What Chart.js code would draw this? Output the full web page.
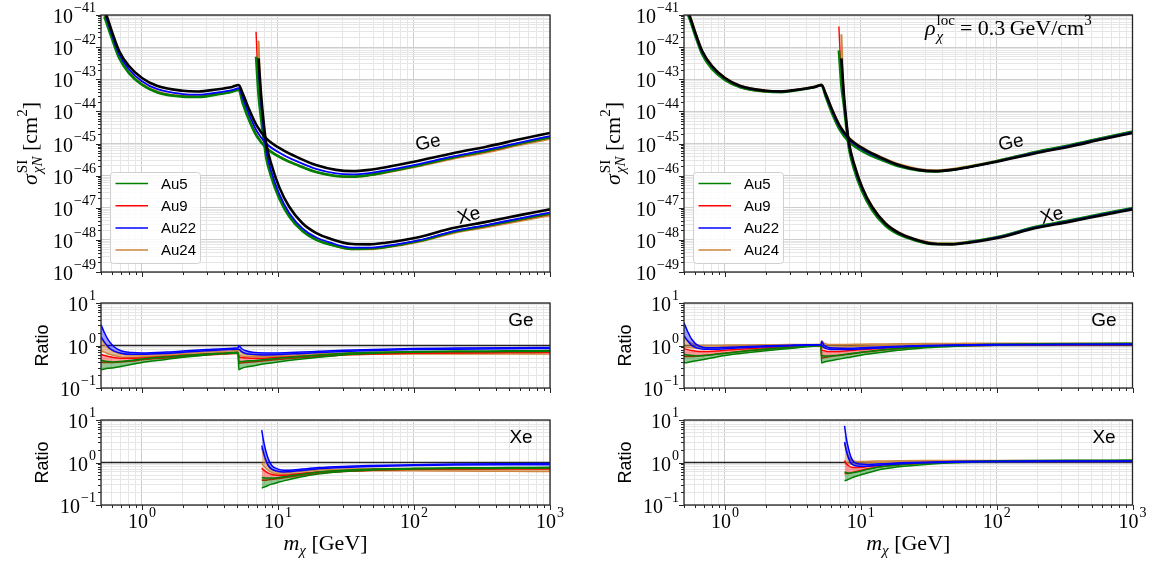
<!DOCTYPE html>
<html>
<head>
<meta charset="utf-8">
<script src="https://cdn.jsdelivr.net/npm/chart.js@4.4.1/dist/chart.umd.min.js"></script>
<style>
html, body { margin: 0; padding: 0; background: #fff; }
#wrap { position: relative; width: 1158px; height: 563px; overflow: hidden; }
canvas { position: absolute; }
</style>
</head>
<body>
<div id="wrap">
	<canvas id="lTop" width="580" height="290" style="left:0;top:0"></canvas>
	<canvas id="lGe" width="580" height="110" style="left:0;top:290px"></canvas>
	<canvas id="lXe" width="580" height="163" style="left:0;top:400px"></canvas>
	<canvas id="rTop" width="578" height="290" style="left:580px;top:0"></canvas>
	<canvas id="rGe" width="578" height="110" style="left:580px;top:290px"></canvas>
	<canvas id="rXe" width="578" height="163" style="left:580px;top:400px"></canvas>
</div>
<script>
// ---- data: masses in GeV, cross sections stored as log10(sigma / cm^2) ----
const mGe = [0.53, 0.55, 0.6, 0.68, 0.8, 1, 1.3, 2, 2.6, 3.5, 4.6, 5.15, 5.5, 6.2, 7, 8.2, 10.8, 14.4, 19, 26.7, 35, 47, 62, 100, 190, 340, 600, 1000];
const geRef = [-40.85, -41.02, -41.5, -42.12, -42.58, -42.96, -43.21, -43.36, -43.38, -43.32, -43.24, -43.18, -43.44, -43.98, -44.45, -44.84, -45.2, -45.46, -45.67, -45.82, -45.86, -45.82, -45.74, -45.57, -45.31, -45.1, -44.87, -44.67];
const geBlueL = [-40.92, -41.1, -41.6, -42.22, -42.68, -43.06, -43.31, -43.46, -43.48, -43.42, -43.34, -43.28, -43.57, -44.14, -44.62, -45.0, -45.34, -45.59, -45.79, -45.93, -45.96, -45.92, -45.84, -45.67, -45.41, -45.2, -44.97, -44.77];
const geOrangeL = [-41.0, -41.2, -41.68, -42.3, -42.76, -43.14, -43.38, -43.52, -43.53, -43.47, -43.38, -43.32, -43.7, -44.28, -44.74, -45.12, -45.45, -45.69, -45.88, -46.01, -46.04, -45.99, -45.91, -45.74, -45.48, -45.28, -45.05, -44.86];
const geGreenL = [-41.05, -41.25, -41.72, -42.34, -42.8, -43.17, -43.41, -43.54, -43.55, -43.48, -43.39, -43.33, -43.74, -44.32, -44.78, -45.14, -45.47, -45.7, -45.89, -46.01, -46.03, -45.98, -45.89, -45.71, -45.44, -45.23, -45.0, -44.8];
const geRedL = [-41.05, -41.25, -41.72, -42.34, -42.8, -43.17, -43.4, -43.53, -43.54, -43.48, -43.39, -43.33, -43.72, -44.3, -44.76, -45.13, -45.46, -45.7, -45.89, -46.01, -46.04, -45.99, -45.9, -45.72, -45.46, -45.25, -45.02, -44.82];
const geBlueR = [-40.88, -41.05, -41.53, -42.15, -42.6, -42.97, -43.22, -43.36, -43.38, -43.32, -43.24, -43.18, -43.47, -44.02, -44.49, -44.88, -45.23, -45.48, -45.68, -45.82, -45.86, -45.82, -45.74, -45.56, -45.29, -45.08, -44.85, -44.65];
const geOrangeR = [-40.82, -41.0, -41.48, -42.1, -42.57, -42.95, -43.2, -43.35, -43.37, -43.31, -43.22, -43.16, -43.42, -43.97, -44.44, -44.82, -45.18, -45.43, -45.64, -45.79, -45.83, -45.79, -45.71, -45.54, -45.27, -45.06, -44.83, -44.63];
const geGreenR = [-40.95, -41.12, -41.6, -42.22, -42.67, -43.02, -43.25, -43.38, -43.4, -43.33, -43.24, -43.18, -43.52, -44.1, -44.57, -44.95, -45.29, -45.52, -45.71, -45.84, -45.87, -45.82, -45.73, -45.55, -45.27, -45.06, -44.83, -44.63];
const geRedR = [-40.95, -41.12, -41.6, -42.22, -42.67, -43.03, -43.26, -43.39, -43.4, -43.33, -43.25, -43.19, -43.53, -44.1, -44.57, -44.95, -45.28, -45.51, -45.7, -45.83, -45.86, -45.82, -45.74, -45.56, -45.28, -45.07, -44.84, -44.64];

const mXe = [6.9, 7.2, 7.5, 7.9, 8.2, 8.9, 10.2, 12.1, 15.2, 19, 24, 35, 47, 62, 110, 190, 340, 600, 1000];
const xeRef = [null, -42.35, -43.44, -44.45, -45.0, -45.62, -46.35, -46.97, -47.49, -47.78, -47.96, -48.13, -48.14, -48.09, -47.91, -47.64, -47.44, -47.23, -47.05];
const xeBlueL = [null, -42.6, -43.7, -44.7, -45.22, -45.85, -46.56, -47.16, -47.65, -47.92, -48.08, -48.24, -48.24, -48.19, -48.01, -47.74, -47.54, -47.33, -47.15];
const xeOrangeL = [null, -41.8, -43.9, -44.85, -45.35, -45.95, -46.65, -47.24, -47.72, -47.98, -48.14, -48.29, -48.29, -48.24, -48.06, -47.8, -47.61, -47.41, -47.24];
const xeGreenL = [-42.3, -43.5, -44.2, -44.95, -45.45, -46.02, -46.7, -47.27, -47.73, -47.99, -48.14, -48.28, -48.27, -48.22, -48.03, -47.76, -47.56, -47.36, -47.18];
const xeRedL = [-41.52, -43.3, -44.1, -44.9, -45.4, -45.99, -46.68, -47.26, -47.73, -47.99, -48.14, -48.29, -48.28, -48.23, -48.04, -47.77, -47.58, -47.38, -47.2];
const xeBlueR = [null, -42.4, -43.5, -44.5, -45.04, -45.66, -46.38, -46.99, -47.5, -47.79, -47.96, -48.12, -48.13, -48.08, -47.89, -47.62, -47.42, -47.21, -47.03];
const xeOrangeR = [null, -41.6, -43.5, -44.45, -44.98, -45.6, -46.33, -46.95, -47.47, -47.76, -47.94, -48.1, -48.11, -48.06, -47.88, -47.61, -47.41, -47.2, -47.02];
const xeGreenR = [-42.1, -43.2, -43.8, -44.65, -45.17, -45.78, -46.48, -47.07, -47.56, -47.83, -47.99, -48.13, -48.13, -48.07, -47.88, -47.6, -47.4, -47.19, -47.01];
const xeRedR = [-41.36, -43.0, -43.75, -44.62, -45.14, -45.75, -46.46, -47.05, -47.55, -47.82, -47.98, -48.13, -48.13, -48.08, -47.89, -47.61, -47.41, -47.2, -47.02];

// ---- ratio panels: upper / lower edge of each model's band ----
const mGeR = [0.5, 0.53, 0.57, 0.62, 0.7, 0.85, 1, 1.5, 2, 3, 4, 5.1, 5.15, 5.4, 5.8, 6.5, 8, 10, 15, 20, 30, 50, 100, 200, 500, 1000];
const rGeL_bU = [3.1, 2.0, 1.3, 0.95, 0.75, 0.68, 0.67, 0.7, 0.74, 0.8, 0.84, 0.88, 1.0, 0.85, 0.75, 0.69, 0.67, 0.67, 0.7, 0.73, 0.77, 0.81, 0.85, 0.87, 0.89, 0.9];
const rGeL_bL = [1.6, 1.2, 0.9, 0.75, 0.66, 0.62, 0.62, 0.65, 0.69, 0.75, 0.79, 0.82, 0.82, 0.72, 0.65, 0.62, 0.6, 0.61, 0.65, 0.68, 0.72, 0.76, 0.8, 0.82, 0.84, 0.85];
const rGeL_oU = [1.5, 1.1, 0.85, 0.72, 0.63, 0.6, 0.6, 0.63, 0.66, 0.71, 0.74, 0.77, 0.8, 0.7, 0.63, 0.6, 0.58, 0.59, 0.62, 0.64, 0.67, 0.69, 0.7, 0.7, 0.7, 0.7];
const rGeL_oL = [0.75, 0.7, 0.63, 0.58, 0.54, 0.53, 0.54, 0.58, 0.61, 0.65, 0.67, 0.69, 0.6, 0.57, 0.55, 0.54, 0.54, 0.55, 0.57, 0.59, 0.61, 0.62, 0.63, 0.63, 0.63, 0.63];
const rGeL_rU = [0.62, 0.58, 0.55, 0.52, 0.5, 0.5, 0.51, 0.55, 0.59, 0.63, 0.66, 0.68, 0.55, 0.52, 0.51, 0.5, 0.5, 0.52, 0.56, 0.59, 0.62, 0.65, 0.67, 0.68, 0.69, 0.7];
const rGeL_rL = [0.4, 0.4, 0.4, 0.4, 0.41, 0.43, 0.46, 0.51, 0.55, 0.6, 0.63, 0.66, 0.38, 0.39, 0.4, 0.41, 0.44, 0.47, 0.52, 0.55, 0.6, 0.63, 0.66, 0.67, 0.68, 0.69];
const rGeL_gU = [0.45, 0.43, 0.42, 0.41, 0.42, 0.45, 0.48, 0.54, 0.58, 0.63, 0.66, 0.69, 0.42, 0.42, 0.43, 0.44, 0.47, 0.5, 0.56, 0.6, 0.65, 0.69, 0.72, 0.74, 0.75, 0.76];
const rGeL_gL = [0.27, 0.28, 0.29, 0.3, 0.32, 0.36, 0.4, 0.47, 0.53, 0.6, 0.64, 0.67, 0.27, 0.29, 0.31, 0.33, 0.37, 0.41, 0.48, 0.53, 0.6, 0.65, 0.69, 0.71, 0.72, 0.73];

const rGeR_bU = [3.4, 2.2, 1.4, 1.05, 0.9, 0.88, 0.9, 0.95, 0.98, 1.02, 1.04, 1.05, 1.22, 1.0, 0.9, 0.87, 0.86, 0.88, 0.93, 0.96, 1.0, 1.03, 1.05, 1.06, 1.07, 1.08];
const rGeR_bL = [1.7, 1.3, 1.0, 0.88, 0.82, 0.82, 0.84, 0.9, 0.94, 0.99, 1.02, 1.04, 1.0, 0.88, 0.82, 0.8, 0.8, 0.83, 0.89, 0.93, 0.97, 1.0, 1.03, 1.04, 1.05, 1.05];
const rGeR_oU = [1.6, 1.3, 1.12, 1.03, 1.0, 1.0, 1.01, 1.03, 1.04, 1.05, 1.06, 1.07, 1.3, 1.12, 1.06, 1.05, 1.06, 1.07, 1.09, 1.1, 1.11, 1.12, 1.13, 1.13, 1.13, 1.13];
const rGeR_oL = [0.95, 0.9, 0.88, 0.87, 0.88, 0.9, 0.93, 0.97, 1.0, 1.03, 1.04, 1.05, 0.9, 0.88, 0.88, 0.9, 0.93, 0.96, 1.0, 1.02, 1.04, 1.05, 1.06, 1.06, 1.06, 1.06];
const rGeR_rU = [0.85, 0.8, 0.76, 0.73, 0.72, 0.74, 0.77, 0.84, 0.89, 0.95, 0.99, 1.02, 0.8, 0.75, 0.72, 0.72, 0.75, 0.8, 0.87, 0.92, 0.97, 1.01, 1.04, 1.06, 1.07, 1.08];
const rGeR_rL = [0.55, 0.55, 0.55, 0.56, 0.58, 0.62, 0.66, 0.75, 0.82, 0.9, 0.96, 1.0, 0.5, 0.52, 0.54, 0.57, 0.62, 0.68, 0.78, 0.85, 0.92, 0.98, 1.02, 1.04, 1.05, 1.06];
const rGeR_gU = [0.62, 0.6, 0.58, 0.57, 0.58, 0.62, 0.66, 0.76, 0.83, 0.91, 0.97, 1.01, 0.58, 0.57, 0.57, 0.58, 0.63, 0.69, 0.8, 0.87, 0.95, 1.02, 1.07, 1.1, 1.12, 1.13];
const rGeR_gL = [0.39, 0.4, 0.42, 0.44, 0.47, 0.53, 0.58, 0.68, 0.75, 0.85, 0.93, 0.98, 0.39, 0.41, 0.43, 0.46, 0.52, 0.59, 0.7, 0.78, 0.88, 0.96, 1.02, 1.05, 1.07, 1.08];

const mXeR = [7.6, 7.8, 8.1, 8.5, 9, 10, 11, 13, 15, 20, 30, 50, 100, 200, 500, 1000];
const rXeL_bU = [5.8, 3.5, 2.0, 1.2, 0.85, 0.7, 0.66, 0.67, 0.7, 0.76, 0.81, 0.85, 0.89, 0.92, 0.94, 0.95];
const rXeL_bL = [2.5, 1.8, 1.2, 0.85, 0.7, 0.62, 0.6, 0.62, 0.65, 0.71, 0.76, 0.81, 0.85, 0.87, 0.88, 0.88];
const rXeL_oU = [2.2, 1.6, 1.1, 0.8, 0.67, 0.6, 0.58, 0.6, 0.62, 0.67, 0.7, 0.72, 0.72, 0.71, 0.7, 0.69];
const rXeL_oL = [0.95, 0.85, 0.75, 0.65, 0.58, 0.54, 0.53, 0.54, 0.56, 0.6, 0.63, 0.64, 0.64, 0.63, 0.62, 0.61];
const rXeL_rU = [0.75, 0.68, 0.62, 0.56, 0.52, 0.5, 0.5, 0.52, 0.55, 0.6, 0.64, 0.68, 0.7, 0.71, 0.72, 0.72];
const rXeL_rL = [0.38, 0.38, 0.38, 0.39, 0.4, 0.42, 0.44, 0.47, 0.5, 0.55, 0.61, 0.66, 0.69, 0.7, 0.71, 0.71];
const rXeL_gU = [0.45, 0.44, 0.43, 0.43, 0.43, 0.44, 0.46, 0.5, 0.53, 0.6, 0.66, 0.7, 0.73, 0.75, 0.76, 0.77];
const rXeL_gL = [0.25, 0.26, 0.27, 0.29, 0.31, 0.34, 0.37, 0.42, 0.46, 0.54, 0.61, 0.67, 0.7, 0.72, 0.73, 0.74];

const rXeR_bU = [7.3, 4.0, 2.2, 1.3, 1.0, 0.92, 0.9, 0.92, 0.94, 0.98, 1.02, 1.05, 1.07, 1.08, 1.09, 1.09];
const rXeR_bL = [3.0, 2.0, 1.3, 0.95, 0.85, 0.82, 0.82, 0.85, 0.88, 0.93, 0.98, 1.02, 1.04, 1.05, 1.06, 1.06];
const rXeR_oU = [2.8, 2.0, 1.4, 1.15, 1.07, 1.05, 1.06, 1.08, 1.09, 1.1, 1.11, 1.12, 1.12, 1.12, 1.12, 1.12];
const rXeR_oL = [1.1, 1.0, 0.95, 0.92, 0.92, 0.94, 0.96, 0.99, 1.01, 1.03, 1.05, 1.06, 1.06, 1.06, 1.06, 1.06];
const rXeR_rU = [1.1, 0.95, 0.85, 0.78, 0.76, 0.77, 0.8, 0.85, 0.89, 0.95, 1.0, 1.04, 1.07, 1.08, 1.09, 1.1];
const rXeR_rL = [0.55, 0.55, 0.55, 0.57, 0.6, 0.65, 0.7, 0.77, 0.82, 0.89, 0.96, 1.02, 1.05, 1.07, 1.08, 1.08];
const rXeR_gU = [0.6, 0.58, 0.57, 0.57, 0.59, 0.63, 0.68, 0.76, 0.82, 0.9, 0.98, 1.05, 1.1, 1.12, 1.13, 1.14];
const rXeR_gL = [0.37, 0.38, 0.4, 0.43, 0.46, 0.51, 0.56, 0.65, 0.71, 0.8, 0.9, 0.98, 1.04, 1.07, 1.08, 1.09];

const unityX = [0.5, 1000];
const unityY = [1, 1];
const legendNames = ['Au5', 'Au9', 'Au22', 'Au24'];

// ---- styling ----
const SERIF = '"Liberation Serif", "DejaVu Serif", serif';
const SANS = '"Liberation Sans", "DejaVu Sans", sans-serif';
const COL = { green: '#008000', red: '#ff0000', blue: '#0000ff', orange: '#cd853f' };
const FILL = { green: 'rgba(0,128,0,0.42)', red: 'rgba(255,0,0,0.38)', blue: 'rgba(0,0,255,0.38)', orange: 'rgba(205,133,63,0.5)' };
const legendColors = [COL.green, COL.red, COL.blue, COL.orange];

function pts(xs, ys, isLog){
	const out = [];
	xs.forEach((x, i) => {
		if(ys[i] === null) return;
		out.push({ x, y: isLog ? Math.pow(10, ys[i]) : ys[i] });
	});
	return out;
}
function line(xs, ys, color, width, isLog){
	return {
		data: pts(xs, ys, isLog), borderColor: color, borderWidth: width,
		fill: false, pointRadius: 0, clip: 0, cubicInterpolationMode: 'monotone'
	};
}
function band(xs, up, lo, name){
	const a = line(xs, up, COL[name], 1.5, false);
	const b = line(xs, lo, COL[name], 1.5, false);
	b.fill = '-1';
	b.backgroundColor = FILL[name];
	return [a, b];
}
function topSets(geB, geO, geG, geR, xeB, xeO, xeG, xeR){
	return [
		line(mGe, geRef, '#000', 2.6, true), line(mXe, xeRef, '#000', 2.6, true),
		line(mGe, geB, COL.blue, 1.8, true), line(mXe, xeB, COL.blue, 1.8, true),
		line(mGe, geG, COL.green, 2.6, true), line(mXe, xeG, COL.green, 2.6, true),
		line(mGe, geR, COL.red, 1.4, true), line(mXe, xeR, COL.red, 1.4, true),
		line(mGe, geO, COL.orange, 2.0, true), line(mXe, xeO, COL.orange, 2.0, true)
	];
}
function ratioSets(xs, bU, bL, gU, gL, rU, rL, oU, oL){
	return [
		...band(xs, bU, bL, 'blue'), ...band(xs, gU, gL, 'green'),
		...band(xs, rU, rL, 'red'), ...band(xs, oU, oL, 'orange'),
		line(unityX, unityY, '#222', 1.4, false)
	];
}

// ---- text helpers ----
function rich(ctx, parts, x, y, align){
	const widths = parts.map(p => {
		const list = p.stack || [p];
		return Math.max(...list.map(s => { ctx.font = s.f; return ctx.measureText(s.t).width; })) + (p.gap || 0);
	});
	const total = widths.reduce((s, w) => s + w, 0);
	let cx = align === 'right' ? x - total : align === 'center' ? x - total / 2 : x;
	ctx.textAlign = 'left';
	ctx.textBaseline = 'alphabetic';
	parts.forEach((p, i) => {
		(p.stack || [p]).forEach(s => { ctx.font = s.f; ctx.fillText(s.t, cx, y + (s.dy || 0)); });
		cx += widths[i];
	});
}
function pow10(e){
	return [
		{ t: '10', f: '20px ' + SERIF, gap: 1 },
		{ t: e < 0 ? '\u2212' + (-e) : String(e), f: '14px ' + SERIF, dy: -11 }
	];
}
const sigmaTitle = [
	{ t: '\u03c3', f: 'italic 22px ' + SERIF, gap: 1 },
	{ stack: [{ t: 'SI', f: '15px ' + SERIF, dy: -10 }, { t: '\u03c7N', f: 'italic 15px ' + SERIF, dy: 5 }] },
	{ t: ' [cm', f: '22px ' + SERIF },
	{ t: '2', f: '15px ' + SERIF, dy: -10 },
	{ t: ']', f: '22px ' + SERIF }
];
const massTitle = [
	{ t: 'm', f: 'italic 22px ' + SERIF },
	{ t: '\u03c7', f: 'italic 15px ' + SERIF, dy: 5 },
	{ t: ' [GeV]', f: '22px ' + SERIF }
];
const rhoText = [
	{ t: '\u03c1', f: 'italic 22px ' + SERIF, gap: 1 },
	{ stack: [{ t: 'loc', f: '15px ' + SERIF, dy: -10 }, { t: '\u03c7', f: 'italic 15px ' + SERIF, dy: 6 }], gap: 5 },
	{ t: '= 0.3\u2009GeV/cm', f: '22px ' + SERIF },
	{ t: '3', f: '15px ' + SERIF, dy: -10 }
];

function drawDecor(chart, cfg){
	const { ctx, chartArea: a, scales: { x, y } } = chart;
	ctx.save();
	// outward ticks
	ctx.strokeStyle = '#262626';
	ctx.lineWidth = 1;
	ctx.beginPath();
	x.ticks.forEach(t => {
		const p = Math.round(x.getPixelForValue(t.value)) + 0.5;
		ctx.moveTo(p, a.bottom); ctx.lineTo(p, a.bottom + (t.major ? 5 : 3));
	});
	y.ticks.forEach(t => {
		const p = Math.round(y.getPixelForValue(t.value)) + 0.5;
		ctx.moveTo(a.left, p); ctx.lineTo(a.left - (t.major ? 5 : 3), p);
	});
	ctx.stroke();
	ctx.lineWidth = 1.3;
	ctx.strokeRect(a.left, a.top, a.right - a.left, a.bottom - a.top);

	ctx.fillStyle = '#000';
	y.ticks.filter(t => t.major).forEach(t => {
		rich(ctx, pow10(Math.round(Math.log10(t.value))), a.left - 5, y.getPixelForValue(t.value) + 8, 'right');
	});
	if(cfg.xLabels){
		x.ticks.filter(t => t.major).forEach(t => {
			rich(ctx, pow10(Math.round(Math.log10(t.value))), x.getPixelForValue(t.value), a.bottom + 23, 'center');
		});
		rich(ctx, massTitle, (a.left + a.right) / 2, a.bottom + 45, 'center');
	}
	const midY = (a.top + a.bottom) / 2;
	if(cfg.kind === 'top'){
		ctx.save();
		ctx.translate(a.left - 64, midY);
		ctx.rotate(-Math.PI / 2);
		rich(ctx, sigmaTitle, 0, 0, 'center');
		ctx.restore();
		// curve labels
		[['Ge', 327, 128, -12], ['Xe', 368, 201, -15]].forEach(([t, dx, dy, rot]) => {
			ctx.save();
			ctx.translate(a.left + dx, a.top + dy);
			ctx.rotate(rot * Math.PI / 180);
			ctx.font = '19px ' + SANS;
			ctx.textAlign = 'center';
			ctx.textBaseline = 'middle';
			ctx.fillText(t, 0, 0);
			ctx.restore();
		});
		// legend
		const lx = a.left + 9, ly = a.top + 157, lw = 90, lh = 91;
		ctx.beginPath();
		ctx.roundRect(lx + 0.5, ly + 0.5, lw, lh, 3);
		ctx.fillStyle = 'rgba(255,255,255,0.85)';
		ctx.fill();
		ctx.strokeStyle = '#d0d0d0';
		ctx.lineWidth = 1;
		ctx.stroke();
		legendNames.forEach((name, i) => {
			const yy = ly + 11.5 + i * 22.2;
			ctx.strokeStyle = legendColors[i];
			ctx.lineWidth = 1.5;
			ctx.beginPath();
			ctx.moveTo(lx + 5.5, yy); ctx.lineTo(lx + 38, yy);
			ctx.stroke();
			ctx.fillStyle = '#000';
			ctx.font = '15px ' + SANS;
			ctx.textAlign = 'left';
			ctx.textBaseline = 'middle';
			ctx.fillText(name, lx + 51, yy + 1);
		});
		if(cfg.rho){
			ctx.fillStyle = '#000';
			rich(ctx, rhoText, a.left + 241, a.top + 20, 'left');
		}
	} else {
		ctx.save();
		ctx.translate(a.left - 53, midY);
		ctx.rotate(-Math.PI / 2);
		ctx.font = '18px ' + SANS;
		ctx.textAlign = 'center';
		ctx.textBaseline = 'alphabetic';
		ctx.fillText('Ratio', 0, 0);
		ctx.restore();
		ctx.font = '19px ' + SANS;
		ctx.textAlign = 'center';
		ctx.textBaseline = 'alphabetic';
		ctx.fillText(cfg.tag, a.left + 420, a.top + 23);
	}
	ctx.restore();
}

function decadeTicks(min, max){
	const out = [];
	for(let e = Math.floor(Math.log10(min)); e <= Math.ceil(Math.log10(max)); e++){
		for(let k = 1; k <= 9; k++){
			const v = k * Math.pow(10, e);
			if(v >= min * 0.999 && v <= max * 1.001) out.push({ value: v, major: k === 1 });
		}
	}
	return out;
}
function logAxis(min, max){
	return {
		type: 'logarithmic', min, max,
		border: { display: false },
		ticks: { display: false },
		grid: {
			drawTicks: false,
			color: c => (c.tick && c.tick.major) ? '#cdcdcd' : '#e6e6e6',
			lineWidth: 1
		},
		afterBuildTicks: s => { s.ticks = decadeTicks(min, max); },
		afterFit: s => { if(s.isHorizontal()) s.height = 0; else s.width = 0; }
	};
}
function panel(id, datasets, yMin, yMax, padding, cfg){
	return new Chart(document.getElementById(id), {
		type: 'line',
		data: { datasets },
		options: {
			responsive: false,
			animation: false,
			layout: { padding },
			plugins: { legend: { display: false }, tooltip: { enabled: false } },
			scales: { x: logAxis(0.5, 1000), y: logAxis(yMin, yMax) }
		},
		plugins: [{ id: 'decor', afterDraw: chart => drawDecor(chart, cfg) }]
	});
}

const padL = { left: 101, right: 30 };
const padR = { left: 104, right: 25.5 };
panel('lTop', topSets(geBlueL, geOrangeL, geGreenL, geRedL, xeBlueL, xeOrangeL, xeGreenL, xeRedL), 1e-49, 1e-41,
	{ ...padL, top: 15, bottom: 18 }, { kind: 'top' });
panel('rTop', topSets(geBlueR, geOrangeR, geGreenR, geRedR, xeBlueR, xeOrangeR, xeGreenR, xeRedR), 1e-49, 1e-41,
	{ ...padR, top: 15, bottom: 18 }, { kind: 'top', rho: true });
panel('lGe', ratioSets(mGeR, rGeL_bU, rGeL_bL, rGeL_gU, rGeL_gL, rGeL_rU, rGeL_rL, rGeL_oU, rGeL_oL), 0.1, 10,
	{ ...padL, top: 13, bottom: 12 }, { kind: 'ratio', tag: 'Ge' });
panel('rGe', ratioSets(mGeR, rGeR_bU, rGeR_bL, rGeR_gU, rGeR_gL, rGeR_rU, rGeR_rL, rGeR_oU, rGeR_oL), 0.1, 10,
	{ ...padR, top: 13, bottom: 12 }, { kind: 'ratio', tag: 'Ge' });
panel('lXe', ratioSets(mXeR, rXeL_bU, rXeL_bL, rXeL_gU, rXeL_gL, rXeL_rU, rXeL_rL, rXeL_oU, rXeL_oL), 0.1, 10,
	{ ...padL, top: 20, bottom: 58 }, { kind: 'ratio', tag: 'Xe', xLabels: true });
panel('rXe', ratioSets(mXeR, rXeR_bU, rXeR_bL, rXeR_gU, rXeR_gL, rXeR_rU, rXeR_rL, rXeR_oU, rXeR_oL), 0.1, 10,
	{ ...padR, top: 20, bottom: 58 }, { kind: 'ratio', tag: 'Xe', xLabels: true });
</script>
</body>
</html>
